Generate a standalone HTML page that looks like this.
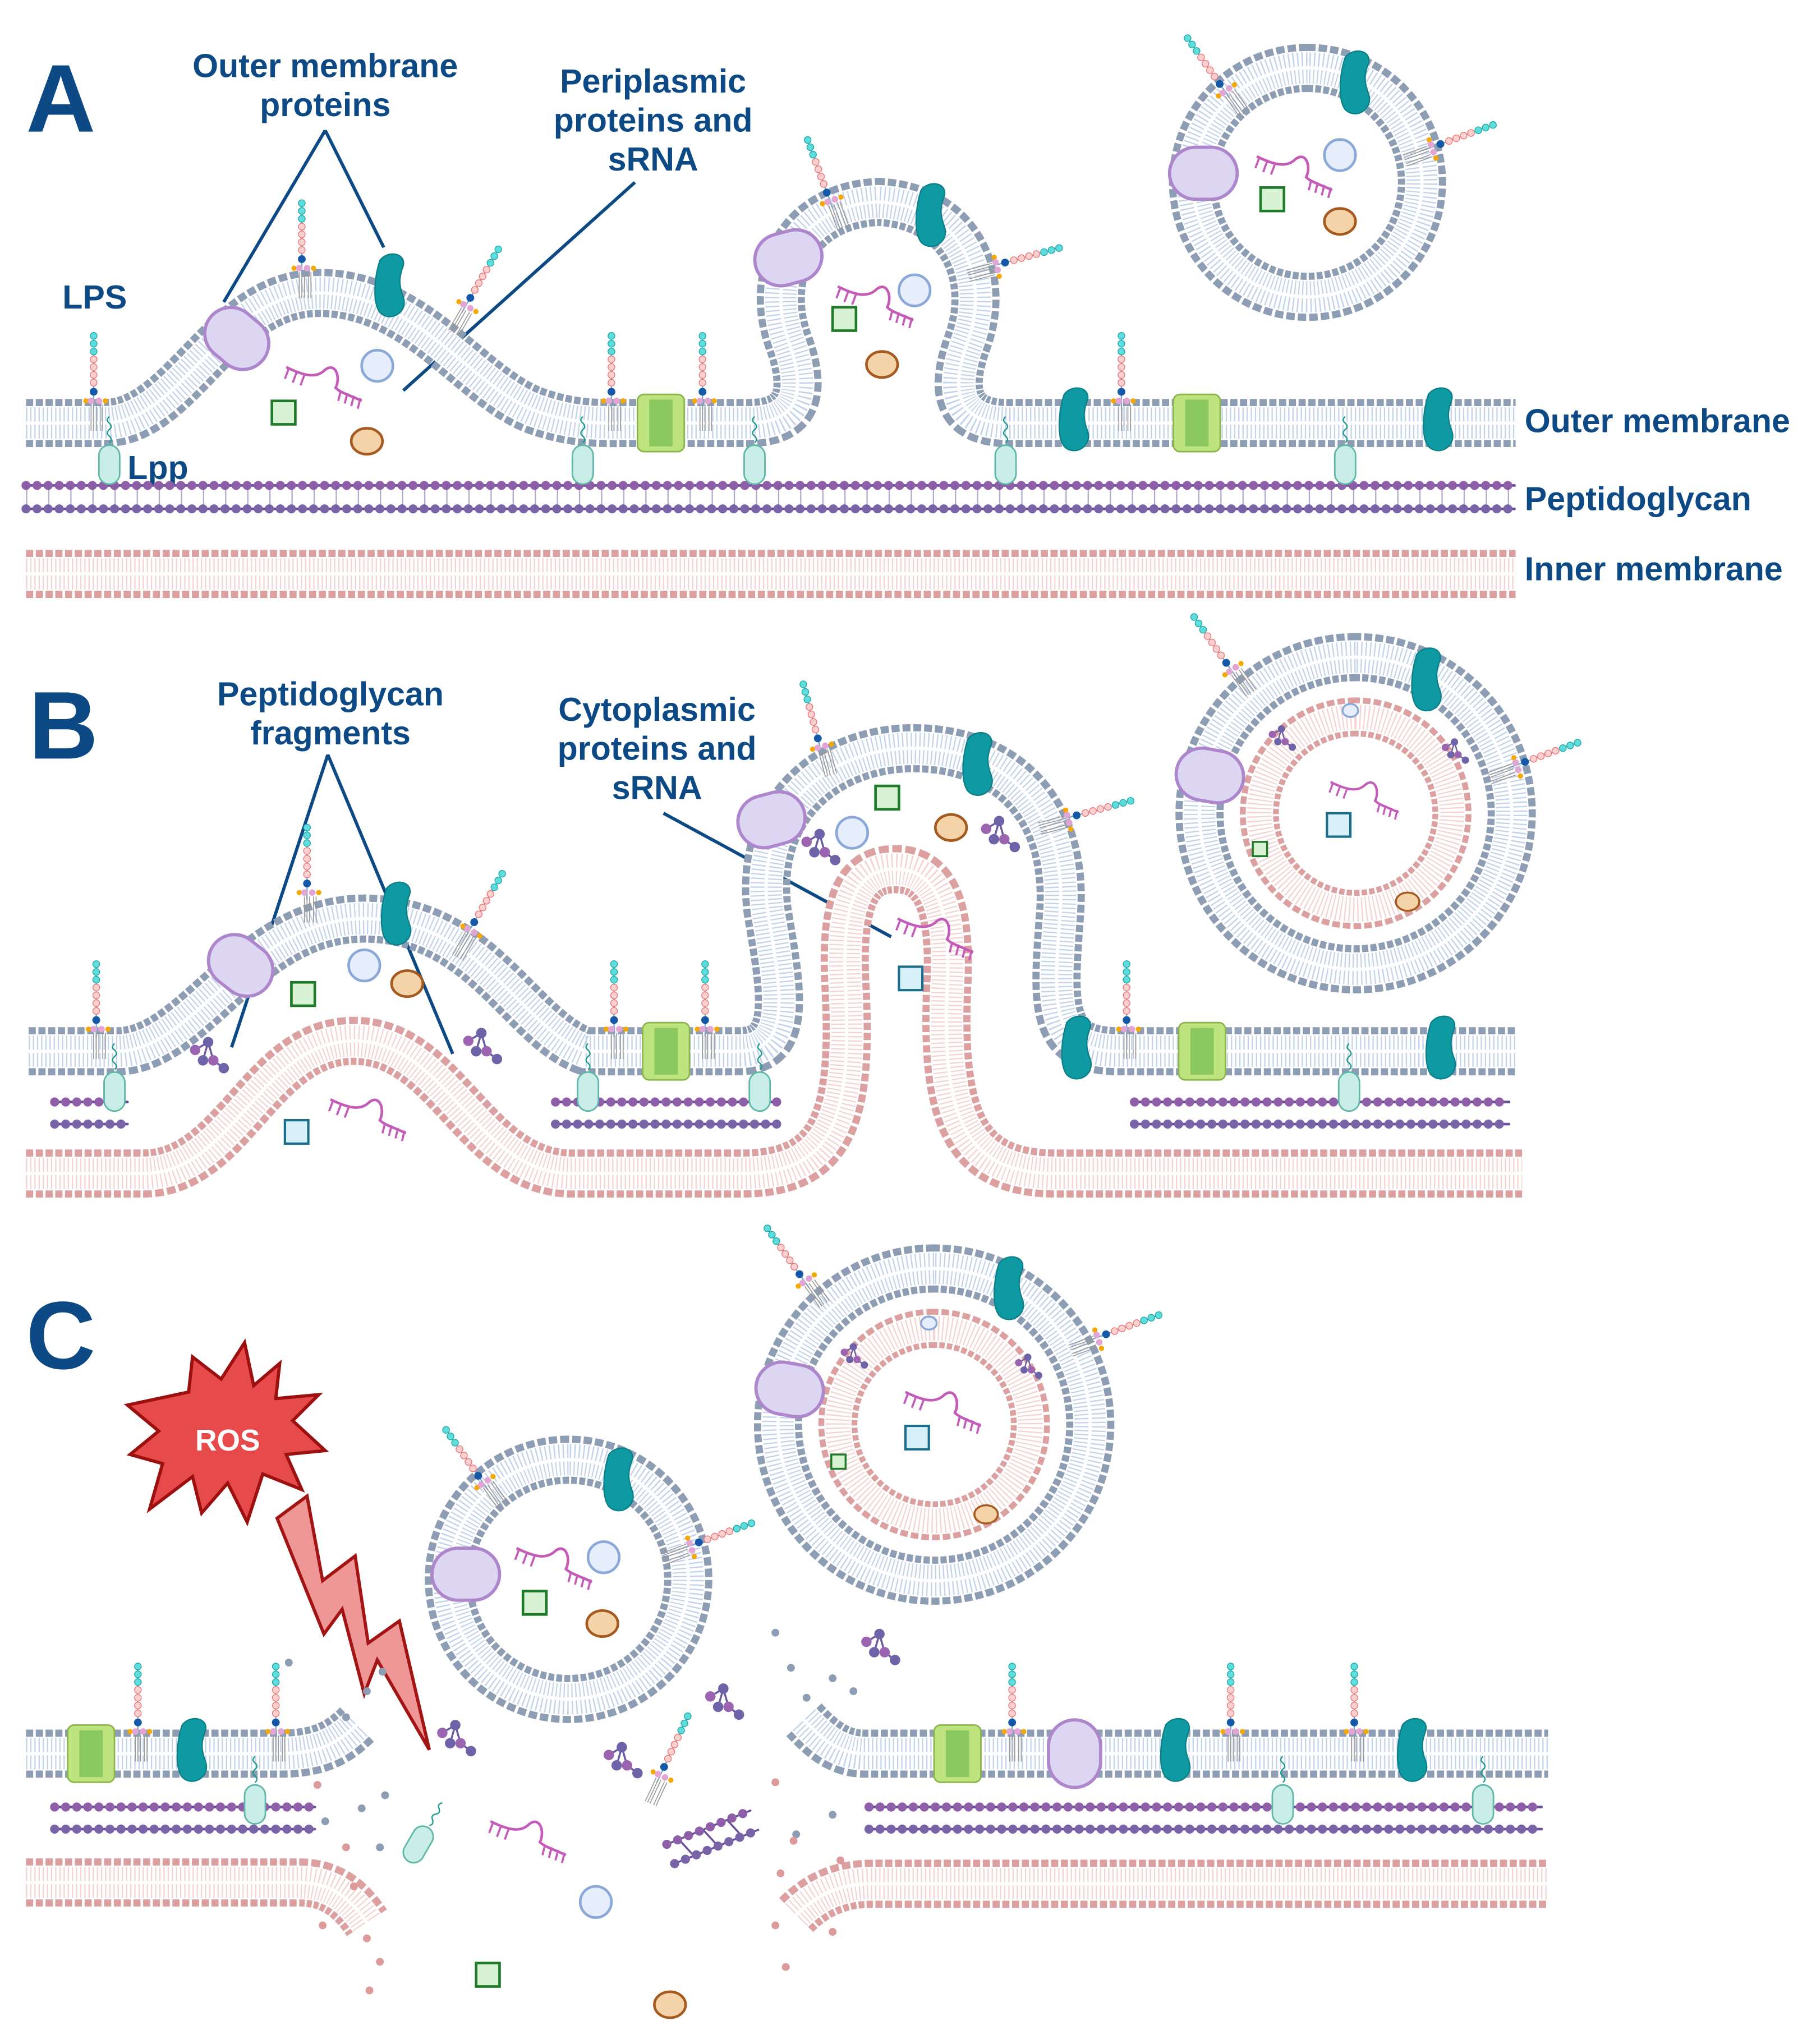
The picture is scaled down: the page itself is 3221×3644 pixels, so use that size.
<!DOCTYPE html>
<html><head><meta charset="utf-8"><style>
html,body{margin:0;padding:0;background:#fff}
svg{display:block}
text{font-family:"Liberation Sans",sans-serif;font-weight:bold;fill:#0d4a85}
.m{fill:none}
.o1{stroke:#8d9db3;stroke-width:37;stroke-dasharray:5.5 2}
.o2{stroke:#fff;stroke-width:26}
.o3{stroke:#c3d3ec;stroke-width:24;stroke-dasharray:1 2.2}
.o4{stroke:#fff;stroke-width:2.5}
.p1{stroke:#dca0a0;stroke-width:37;stroke-dasharray:5.5 2}
.p2{stroke:#fff;stroke-width:26}
.p3{stroke:#f5d3d3;stroke-width:24;stroke-dasharray:1 2.2}
.p4{stroke:#fff;stroke-width:2.5}
.q1{stroke:#dca0a0;stroke-width:30;stroke-dasharray:5 2}
.q2{stroke:#fff;stroke-width:21}
.q3{stroke:#f5d3d3;stroke-width:19;stroke-dasharray:1 2.2}
</style></head><body>
<svg width="3221" height="3644" viewBox="0 0 1389 1571" xmlns="http://www.w3.org/2000/svg">
<defs>
<path id="omA" d="M20,325 L80,325 C140,325 170,225 245,225 C320,225 360,295 410,315 C440,326 460,325 480,325 L575,325 C615,325 620,300 606,262 C588,212 612,158 675,155 C738,158 762,212 744,262 C730,300 735,325 775,325 L1165,325"/>
<path id="omB" d="M22,808 L90,808 C150,808 190,706 280,706 C370,706 400,790 450,808 L568,808 C610,808 600,760 590,700 C580,618 640,575 702,575 C770,575 820,618 815,700 C810,770 805,808 860,808 L1165,808"/>
<path id="imB" d="M20,902 L110,902 C180,902 200,800 272,800 C344,800 365,902 440,902 L570,902 C640,902 655,860 650,760 C646,690 660,668 688,668 C716,668 732,690 728,760 C724,860 742,902 812,902 L1170,902"/>
<path id="imA" d="M20,441 L1165,441"/>
<path id="omCL" d="M20,1348 L215,1348 C245,1348 260,1340 275,1325"/>
<path id="imCL" d="M20,1447 L230,1447 C255,1447 270,1460 282,1478"/>
<path id="omCR" d="M618,1322 C632,1337 645,1348 665,1348 L1190,1348"/>
<path id="imCR" d="M612,1472 C627,1457 645,1448 670,1448 L1190,1448"/>
<path id="vA" d="M1005,52 a88,88 0 1,0 0.1,0Z"/>
<path id="vB" d="M1042,505 a120,120 0 1,0 0.1,0Z"/>
<path id="vC1" d="M437,1122 a92,92 0 1,0 0.1,0Z"/>
<path id="vC2" d="M718,975 a120,120 0 1,0 0.1,0Z"/>
<path id="iB" d="M1042,551 a74,74 0 1,0 0.1,0Z"/>
<path id="iC" d="M718,1021 a74,74 0 1,0 0.1,0Z"/>
<g id="lps">
<line x1="0" y1="0" x2="0" y2="-58" stroke="#7ac" stroke-width="1"/>
<circle cx="0" cy="-56" r="2.6" fill="#5fdcdc" stroke="#2aa" stroke-width=".6"/>
<circle cx="0" cy="-50" r="2.6" fill="#5fdcdc" stroke="#2aa" stroke-width=".6"/>
<circle cx="0" cy="-44" r="2.6" fill="#5fdcdc" stroke="#2aa" stroke-width=".6"/>
<circle cx="0" cy="-38" r="2.6" fill="#fbd0d0" stroke="#e77" stroke-width=".6"/>
<circle cx="0" cy="-32" r="2.6" fill="#fbd0d0" stroke="#e77" stroke-width=".6"/>
<circle cx="0" cy="-26" r="2.6" fill="#fbd0d0" stroke="#e77" stroke-width=".6"/>
<circle cx="0" cy="-20" r="2.6" fill="#fbd0d0" stroke="#e77" stroke-width=".6"/>
<circle cx="0" cy="-13" r="3" fill="#1558a8"/>
<circle cx="-6" cy="-6" r="2" fill="#f5a800"/><circle cx="-2" cy="-6" r="2.5" fill="#e3a6d4"/><circle cx="4" cy="-6" r="2.5" fill="#e3a6d4"/><circle cx="9" cy="-6" r="2" fill="#f5a800"/>
<path d="M-2,-3v20M0,-3v20M2,-3v20M5,-3v20M7,-3v20" stroke="#999" stroke-width=".7"/>
</g>
<g id="omp"><path d="M-8,-22 C-2,-30 12,-28 10,-18 C7,-10 6,-4 10,6 C14,18 0,26 -8,18 C-14,10 -12,-10 -8,-22Z" fill="#0f9aa3" stroke="#0b7f86" stroke-width="1"/></g>
<g id="chan"><rect x="-18" y="-22" width="36" height="44" rx="5" fill="#bde47f" stroke="#8bb54a" stroke-width="1.2"/><rect x="-9" y="-18" width="18" height="36" fill="#8cc860"/></g>
<g id="pill"><rect x="-26" y="-20" width="52" height="40" rx="20" fill="#ddd6f3" stroke="#ae86cc" stroke-width="2.5"/></g>
<g id="lpp"><path d="M0,-28 q-3,3 0,5 q3,3 0,5 q-3,3 0,5 q3,3 0,5" stroke="#1a9a8a" fill="none" stroke-width="1"/><rect x="-8" y="-6" width="16" height="30" rx="8" fill="#c9eee8" stroke="#5fb7a8" stroke-width="1.2"/></g>
<g id="gsq"><rect x="-9" y="-9" width="18" height="18" fill="#d8f3d4" stroke="#1f7a2a" stroke-width="2"/></g>
<g id="csq"><rect x="-9" y="-9" width="18" height="18" fill="#d7f0f7" stroke="#1b6e8a" stroke-width="1.8"/></g>
<g id="bci"><ellipse rx="12" ry="12" fill="#e6eefb" stroke="#8aa8d8" stroke-width="2"/></g>
<g id="oel"><ellipse rx="12" ry="10" fill="#f4d3a9" stroke="#a65a20" stroke-width="2"/></g>
<g id="rna"><path d="M-28,-10 C-12,-2 -4,-2 2,-8 C10,-14 14,-2 10,6 C14,10 22,12 30,16" fill="none" stroke="#c55bb8" stroke-width="2"/><path d="M-26,-9l-3,8M-20,-6l-3,8M-14,-4l-3,8M14,8l-2,8M19,10l-2,8M24,12l-2,8M29,14l-2,8" stroke="#c55bb8" stroke-width="1.6"/></g>
<g id="pgf"><path d="M-10,-8 L0,-14 L4,0 L12,6 M0,-14l-4,14" stroke="#6a5aa0" stroke-width="1.5" fill="none"/><circle cx="-10" cy="-8" r="4" fill="#9a64b0"/><circle cx="0" cy="-14" r="4" fill="#6e62a8"/><circle cx="-4" cy="0" r="4" fill="#6e62a8"/><circle cx="4" cy="0" r="4" fill="#9a64b0"/><circle cx="12" cy="6" r="4" fill="#6e62a8"/></g>
</defs>

<!-- ===== PANEL A ===== -->
<text x="20" y="101" font-size="74">A</text>
<text x="250" y="59" font-size="25.5" text-anchor="middle">Outer membrane</text>
<text x="250" y="89" font-size="25.5" text-anchor="middle">proteins</text>
<text x="502" y="71" font-size="25.5" text-anchor="middle">Periplasmic</text>
<text x="502" y="101" font-size="25.5" text-anchor="middle">proteins and</text>
<text x="502" y="131" font-size="25.5" text-anchor="middle">sRNA</text>
<text x="48" y="237" font-size="25.5">LPS</text>
<text x="98" y="368" font-size="25.5">Lpp</text>
<text x="1172" y="332" font-size="25.5">Outer membrane</text>
<text x="1172" y="392" font-size="25.5">Peptidoglycan</text>
<text x="1172" y="446" font-size="25.5">Inner membrane</text>
<path d="M250,100 L172,232 M250,100 L295,190 M488,140 L310,300" stroke="#0d4a85" stroke-width="2.5" fill="none"/>

<g class="m"><use href="#imA" class="p1"/><use href="#imA" class="p2"/><use href="#imA" class="p3"/><use href="#imA" class="p4"/></g>
<g>
<line x1="20" y1="373" x2="1165" y2="373" stroke="#6c4f9e" stroke-width="2"/>
<line x1="20" y1="391" x2="1165" y2="391" stroke="#6c4f9e" stroke-width="2"/>
<line x1="20" y1="373" x2="1165" y2="373" stroke="#8e5fa8" stroke-width="7" stroke-dasharray="0 8.5" stroke-linecap="round"/>
<line x1="20" y1="391" x2="1165" y2="391" stroke="#7a64a8" stroke-width="7" stroke-dasharray="0 8.5" stroke-linecap="round"/>
<line x1="20" y1="382" x2="1165" y2="382" stroke="#6a5aa0" stroke-width="18" stroke-dasharray="1 16" opacity=".5"/>
</g>
<g class="m"><use href="#omA" class="o1"/><use href="#omA" class="o2"/><use href="#omA" class="o3"/><use href="#omA" class="o4"/></g>
<g class="m"><use href="#vA" class="o1"/><use href="#vA" class="o2"/><use href="#vA" class="o3"/><use href="#vA" class="o4"/></g>

<use href="#lps" x="72" y="314"/><use href="#lps" x="470" y="314"/><use href="#lps" x="540" y="314"/><use href="#lps" x="862" y="314"/>
<use href="#lps" transform="translate(232,212)"/><use href="#lps" transform="translate(355,240) rotate(30)"/>
<use href="#lps" transform="translate(640,160) rotate(-20)"/><use href="#lps" transform="translate(760,205) rotate(75)"/>
<use href="#lps" transform="translate(945,75) rotate(-35)"/><use href="#lps" transform="translate(1095,115) rotate(70)"/>
<use href="#lpp" x="84" y="348"/><use href="#lpp" x="448" y="348"/><use href="#lpp" x="580" y="348"/><use href="#lpp" x="773" y="348"/><use href="#lpp" x="1034" y="348"/>
<use href="#chan" x="508" y="325"/><use href="#chan" x="920" y="325"/>
<use href="#omp" x="300" y="222"/><use href="#omp" x="826" y="325"/><use href="#omp" x="1106" y="325"/><use href="#omp" x="716" y="168"/><use href="#omp" x="1042" y="66"/>
<use href="#pill" transform="translate(182,260) rotate(40)"/><use href="#pill" transform="translate(606,198) rotate(-15)"/><use href="#pill" transform="translate(925,133)"/>
<use href="#rna" x="248" y="292"/><use href="#rna" x="672" y="230"/><use href="#rna" x="994" y="130"/>
<use href="#bci" x="290" y="281"/><use href="#bci" x="703" y="223"/><use href="#bci" x="1030" y="119"/>
<use href="#gsq" x="218" y="317"/><use href="#gsq" x="649" y="245"/><use href="#gsq" x="978" y="153"/>
<use href="#oel" x="282" y="339"/><use href="#oel" x="678" y="280"/><use href="#oel" x="1030" y="170"/>

<!-- ===== PANEL B ===== -->
<text x="22" y="583" font-size="74">B</text>
<text x="254" y="542" font-size="25.5" text-anchor="middle">Peptidoglycan</text>
<text x="254" y="572" font-size="25.5" text-anchor="middle">fragments</text>
<text x="505" y="554" font-size="25.5" text-anchor="middle">Cytoplasmic</text>
<text x="505" y="584" font-size="25.5" text-anchor="middle">proteins and</text>
<text x="505" y="614" font-size="25.5" text-anchor="middle">sRNA</text>
<path d="M252,580 L178,805 M252,580 L348,810 M510,625 L685,720" stroke="#0d4a85" stroke-width="2.5" fill="none"/>
<g class="m"><use href="#imB" class="p1"/><use href="#imB" class="p2"/><use href="#imB" class="p3"/><use href="#imB" class="p4"/></g>
<g stroke-linecap="round">
<path d="M42,847H98M42,864H98M427,847H598M427,864H598M872,847H1160M872,864H1160" stroke="#6c4f9e" stroke-width="2"/>
<path d="M42,847H98M427,847H598M872,847H1160" stroke="#8e5fa8" stroke-width="7" stroke-dasharray="0 8.5"/>
<path d="M42,864H98M427,864H598M872,864H1160" stroke="#7a64a8" stroke-width="7" stroke-dasharray="0 8.5"/>
</g>
<g class="m"><use href="#omB" class="o1"/><use href="#omB" class="o2"/><use href="#omB" class="o3"/><use href="#omB" class="o4"/></g>
<g class="m"><use href="#vB" class="o1"/><use href="#vB" class="o2"/><use href="#vB" class="o3"/><use href="#vB" class="o4"/>
<use href="#iB" class="q1"/><use href="#iB" class="q2"/><use href="#iB" class="q3"/></g>

<use href="#lps" x="74" y="797"/><use href="#lps" x="472" y="797"/><use href="#lps" x="542" y="797"/><use href="#lps" x="866" y="797"/>
<use href="#lps" transform="translate(236,692)"/><use href="#lps" transform="translate(358,720) rotate(30)"/>
<use href="#lps" transform="translate(632,580) rotate(-15)"/><use href="#lps" transform="translate(815,630) rotate(75)"/>
<use href="#lps" transform="translate(950,520) rotate(-35)"/><use href="#lps" transform="translate(1160,590) rotate(70)"/>
<use href="#lpp" x="88" y="830"/><use href="#lpp" x="452" y="830"/><use href="#lpp" x="584" y="830"/><use href="#lpp" x="1037" y="830"/>
<use href="#chan" x="512" y="808"/><use href="#chan" x="924" y="808"/>
<use href="#omp" x="305" y="705"/><use href="#omp" x="828" y="808"/><use href="#omp" x="1108" y="808"/><use href="#omp" x="752" y="590"/><use href="#omp" x="1097" y="525"/>
<use href="#pill" transform="translate(185,742) rotate(38)"/><use href="#pill" transform="translate(593,630) rotate(-15)"/><use href="#pill" transform="translate(930,596) rotate(10)"/>
<use href="#bci" x="280" y="742"/><use href="#bci" x="655" y="640"/><ellipse cx="1038" cy="546" rx="6" ry="5" fill="#e6eefb" stroke="#8aa8d8" stroke-width="1.5"/>
<use href="#gsq" x="233" y="764"/><use href="#gsq" x="682" y="613"/><rect x="963" y="647" width="11" height="11" fill="#d8f3d4" stroke="#1f7a2a" stroke-width="1.5"/>
<use href="#oel" x="313" y="756"/><use href="#oel" x="731" y="636"/><ellipse cx="1082" cy="693" rx="9" ry="7" fill="#f4d3a9" stroke="#a65a20" stroke-width="1.5"/>
<use href="#rna" x="282" y="855"/><use href="#rna" x="718" y="716"/><use href="#rna" transform="translate(1048,610) scale(.9)"/>
<use href="#csq" x="228" y="870"/><use href="#csq" x="700" y="752"/><use href="#csq" x="1029" y="634"/>
<use href="#pgf" x="160" y="815"/><use href="#pgf" x="370" y="808"/><use href="#pgf" x="630" y="655"/><use href="#pgf" x="768" y="645"/>
<use href="#pgf" transform="translate(985,570) scale(.7)"/><use href="#pgf" transform="translate(1118,580) scale(.7)"/>

<!-- ===== PANEL C ===== -->
<text x="20" y="1052" font-size="74">C</text>
<path d="M98,1080 L145,1070 L148,1043 L170,1060 L188,1032 L195,1065 L215,1048 L212,1075 L245,1072 L225,1092 L250,1115 L220,1118 L232,1145 L202,1133 L190,1170 L175,1140 L155,1163 L148,1135 L115,1160 L125,1125 L100,1118 L122,1100 Z" fill="#e74a4a" stroke="#9c1010" stroke-width="2.5"/>
<text x="175" y="1115" font-size="23" text-anchor="middle" style="fill:#fff">ROS</text>
<path d="M213,1167 L236,1150 L248,1215 L273,1196 L283,1263 L307,1246 L330,1345 L290,1276 L280,1302 L263,1237 L249,1256 Z" fill="#ef9797" stroke="#a31414" stroke-width="2.5"/>
<g class="m">
<use href="#omCL" class="o1"/><use href="#omCL" class="o2"/><use href="#omCL" class="o3"/><use href="#omCL" class="o4"/>
<use href="#imCL" class="p1"/><use href="#imCL" class="p2"/><use href="#imCL" class="p3"/><use href="#imCL" class="p4"/>
<use href="#omCR" class="o1"/><use href="#omCR" class="o2"/><use href="#omCR" class="o3"/><use href="#omCR" class="o4"/>
<use href="#imCR" class="p1"/><use href="#imCR" class="p2"/><use href="#imCR" class="p3"/><use href="#imCR" class="p4"/>
</g>
<g stroke-linecap="round">
<path d="M42,1389H242M42,1406H242M668,1389H1185M668,1406H1185" stroke="#6c4f9e" stroke-width="2"/>
<path d="M42,1389H242M668,1389H1185" stroke="#8e5fa8" stroke-width="7" stroke-dasharray="0 8.5"/>
<path d="M42,1406H242M668,1406H1185" stroke="#7a64a8" stroke-width="7" stroke-dasharray="0 8.5"/>
</g>
<g fill="#8d9db3">
<circle cx="266" cy="1320" r="3"/><circle cx="282" cy="1300" r="3"/><circle cx="294" cy="1285" r="3"/><circle cx="222" cy="1278" r="3"/><circle cx="250" cy="1400" r="3"/><circle cx="278" cy="1390" r="3"/><circle cx="296" cy="1380" r="3"/><circle cx="292" cy="1420" r="3"/>
<circle cx="620" cy="1305" r="3"/><circle cx="640" cy="1290" r="3"/><circle cx="656" cy="1300" r="3"/><circle cx="596" cy="1255" r="3"/><circle cx="608" cy="1282" r="3"/><circle cx="640" cy="1395" r="3"/><circle cx="612" cy="1410" r="3"/>
</g>
<g fill="#dd9a9a">
<circle cx="244" cy="1372" r="3"/><circle cx="266" cy="1420" r="3"/><circle cx="272" cy="1450" r="3"/><circle cx="282" cy="1490" r="3"/><circle cx="248" cy="1480" r="3"/><circle cx="292" cy="1508" r="3"/><circle cx="284" cy="1530" r="3"/>
<circle cx="596" cy="1370" r="3"/><circle cx="610" cy="1415" r="3"/><circle cx="600" cy="1440" r="3"/><circle cx="646" cy="1430" r="3"/><circle cx="596" cy="1480" r="3"/><circle cx="640" cy="1485" r="3"/><circle cx="604" cy="1512" r="3"/>
</g>
<g class="m">
<use href="#vC1" class="o1"/><use href="#vC1" class="o2"/><use href="#vC1" class="o3"/><use href="#vC1" class="o4"/>
<use href="#vC2" class="o1"/><use href="#vC2" class="o2"/><use href="#vC2" class="o3"/><use href="#vC2" class="o4"/>
<use href="#iC" class="q1"/><use href="#iC" class="q2"/><use href="#iC" class="q3"/>
</g>
<use href="#chan" x="70" y="1348"/><use href="#chan" x="736" y="1348"/>
<use href="#omp" x="148" y="1348"/><use href="#omp" x="904" y="1348"/><use href="#omp" x="1086" y="1348"/><use href="#omp" x="476" y="1140"/><use href="#omp" x="776" y="993"/>
<use href="#lps" x="106" y="1337"/><use href="#lps" x="212" y="1337"/><use href="#lps" x="778" y="1337"/><use href="#lps" x="946" y="1337"/><use href="#lps" x="1041" y="1337"/>
<use href="#lps" transform="translate(375,1145) rotate(-35)"/><use href="#lps" transform="translate(525,1190) rotate(70)"/>
<use href="#lps" transform="translate(622,990) rotate(-35)"/><use href="#lps" transform="translate(838,1030) rotate(70)"/>
<use href="#lps" transform="translate(505,1370) rotate(25)"/>
<use href="#lpp" x="196" y="1378"/><use href="#lpp" x="986" y="1378"/><use href="#lpp" x="1140" y="1378"/>
<use href="#lpp" transform="translate(326,1410) rotate(30)"/>
<use href="#pill" transform="translate(358,1210)"/><use href="#pill" transform="translate(607,1068) rotate(10)"/><use href="#pill" transform="translate(826,1348) rotate(90)"/>
<use href="#rna" x="425" y="1200"/><use href="#rna" x="405" y="1410"/><use href="#rna" x="724" y="1080"/>
<use href="#bci" x="464" y="1197"/><use href="#bci" x="458" y="1462"/><ellipse cx="714" cy="1017" rx="6" ry="5" fill="#e6eefb" stroke="#8aa8d8" stroke-width="1.5"/>
<use href="#gsq" x="411" y="1232"/><use href="#gsq" x="375" y="1518"/><rect x="639" y="1118" width="11" height="11" fill="#d8f3d4" stroke="#1f7a2a" stroke-width="1.5"/>
<use href="#oel" x="463" y="1248"/><use href="#oel" x="515" y="1541"/><ellipse cx="758" cy="1164" rx="9" ry="7" fill="#f4d3a9" stroke="#a65a20" stroke-width="1.5"/>
<use href="#csq" x="705" y="1105"/>
<use href="#pgf" x="350" y="1340"/><use href="#pgf" x="478" y="1357"/><use href="#pgf" x="556" y="1312"/><use href="#pgf" x="676" y="1270"/>
<use href="#pgf" transform="translate(656,1045) scale(.7)"/><use href="#pgf" transform="translate(790,1053) scale(.7)"/>
<g transform="translate(548,1412) rotate(-22)">
<path d="M-35,-8H35M-35,8H35M-25,-8l6,16M-5,-8l6,16M15,-8l6,16" stroke="#6c4f9e" stroke-width="1.5"/>
<path d="M-35,-8H35" stroke="#8e5fa8" stroke-width="7" stroke-dasharray="0 9" stroke-linecap="round"/>
<path d="M-35,8H35" stroke="#7a64a8" stroke-width="7" stroke-dasharray="0 9" stroke-linecap="round"/>
</g>
</svg>
</body></html>
